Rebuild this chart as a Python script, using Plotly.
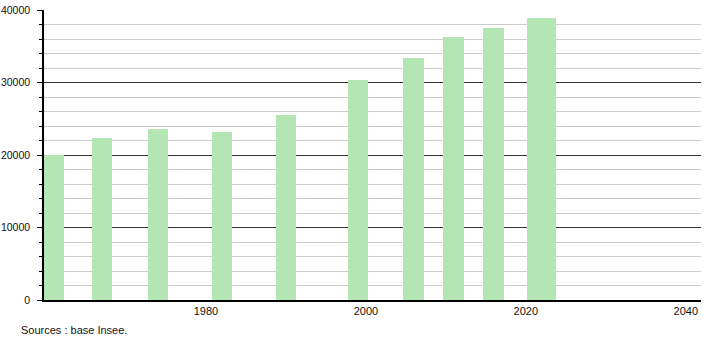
import plotly.graph_objects as go

years = [1961, 1967, 1974, 1982, 1990, 1999, 2006, 2011, 2016, 2022]
population = [20000, 22410, 23655, 23240, 25544, 30282, 33414, 36314, 37557, 38895]
bar_widths = [2.6, 2.6, 2.6, 2.6, 2.6, 2.6, 2.6, 2.6, 2.6, 3.6]
x_ticks = [1980, 2000, 2020, 2040]
y_ticks = [0, 10000, 20000, 30000, 40000]
source_text = "Sources : base Insee."

fig = go.Figure()
fig.add_trace(go.Bar(
    x=years, y=population, width=bar_widths,
    marker=dict(color="#b3e6b3", line=dict(width=0)),
    hoverinfo="x+y",
))

fig.update_layout(
    width=710, height=340,
    margin=dict(l=44, r=9, t=10, b=40, autoexpand=False),
    paper_bgcolor="white", plot_bgcolor="white",
    font=dict(family="Liberation Sans, Arial, sans-serif", size=11, color="#111"),
    showlegend=False,
    bargap=0,
    xaxis=dict(
        range=[1959.75, 2041.9],
        tickvals=x_ticks, ticktext=[str(v) for v in x_ticks],
        showgrid=False, zeroline=False, automargin=False,
        showline=True, linecolor="black", linewidth=1.5,
        ticks="", ticklabelstandoff=0,
    ),
    yaxis=dict(
        range=[0, 40000],
        tickvals=y_ticks, ticktext=[str(v) for v in y_ticks],
        tickfont=dict(size=10.5),
        showgrid=True, gridcolor="#333333", gridwidth=1,
        zeroline=False, automargin=False,
        showline=True, linecolor="black", linewidth=1.5,
        ticks="outside", ticklen=5, tickcolor="black", tickwidth=1,
        ticklabelstandoff=5,
        minor=dict(dtick=2000, showgrid=True, gridcolor="#cccccc", gridwidth=1,
                   ticks="outside", ticklen=3, tickcolor="black"),
    ),
)

fig.add_annotation(
    text=source_text, xref="paper", yref="paper",
    x=-25/657, y=-30/290, xanchor="left", yanchor="middle",
    showarrow=False, font=dict(size=11, color="#111"),
)

fig.write_html("out.html")
